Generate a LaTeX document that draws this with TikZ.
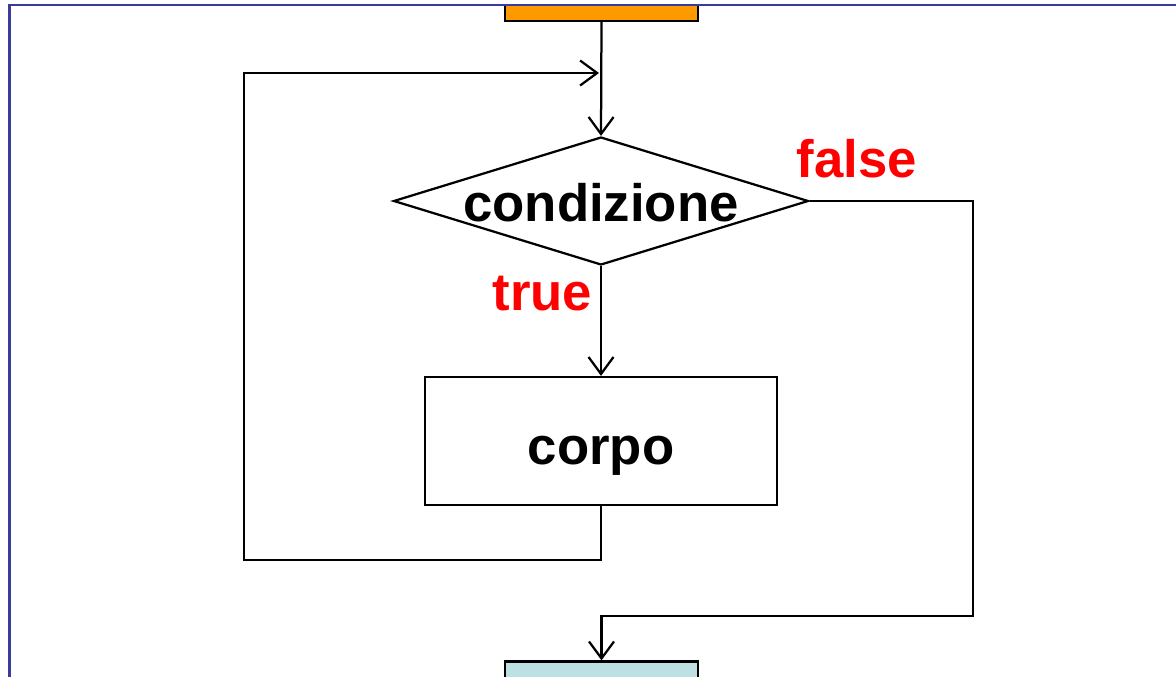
\documentclass[tikz,border=0pt]{standalone}
\usepackage{fontspec}
\setmainfont{Liberation Sans}
\usepackage{xcolor}
\usetikzlibrary{shapes.geometric,arrows.meta}
\definecolor{slideblue}{HTML}{3B3B9F}
\definecolor{startorange}{HTML}{FF9900}
\definecolor{endcyan}{HTML}{BDE1E2}
\tikzset{
    flow/.style = {line width=0.045cm, draw=black, -{Straight Barb[length=0.34cm,width=0.5cm,line width=0.045cm]}},
    bigtext/.style = {font=\fontsize{30}{36}\selectfont\bfseries},
    tag/.style = {bigtext, text=red, anchor=base, inner sep=0},
    block/.style = {draw, line width=0.045cm, inner sep=0},
}

\begin{document}
\begin{tikzpicture}[x=0.02cm,y=-0.02cm]
    \useasboundingbox (0,0) rectangle (1176,676);
    \node (start) at (601.5,13) [block,fill=startorange,minimum width=3.86cm,minimum height=0.32cm] {};
    \node (cond) at (601,201) [block,diamond,fill=white,bigtext,minimum width=8.3cm,minimum height=2.56cm,text height=0.84cm,text depth=0cm] {\makebox[0pt]{condizione}};
    \node (body) at (601,441) [block,bigtext,minimum width=7.04cm,minimum height=2.56cm,text height=1.2cm,text depth=0.28cm] {corpo};
    \node (stop) at (601.5,676) [block,fill=endcyan,minimum width=3.86cm,minimum height=0.58cm] {};
    \node (yes) at (542.5,310) [tag] {true};
    \node (no) at (857,177) [tag] {false};
    \coordinate (loopL) at (244,560);
    \coordinate (merge) at (599,73);
    \coordinate (noR) at (973,616);
    \draw[flow] (start.south) -- (cond.north);
    \draw[flow] (cond.south) -- (body.north);
    \draw[flow] (body.south) |- (loopL) |- (merge);
    \draw[flow] (cond.east) -| (noR) -| (stop.north);
    % slide frame
    \draw[slideblue,line width=0.05cm] (9.5,680) -- (9.5,5) -- (1180,5);
\end{tikzpicture}
\end{document}
